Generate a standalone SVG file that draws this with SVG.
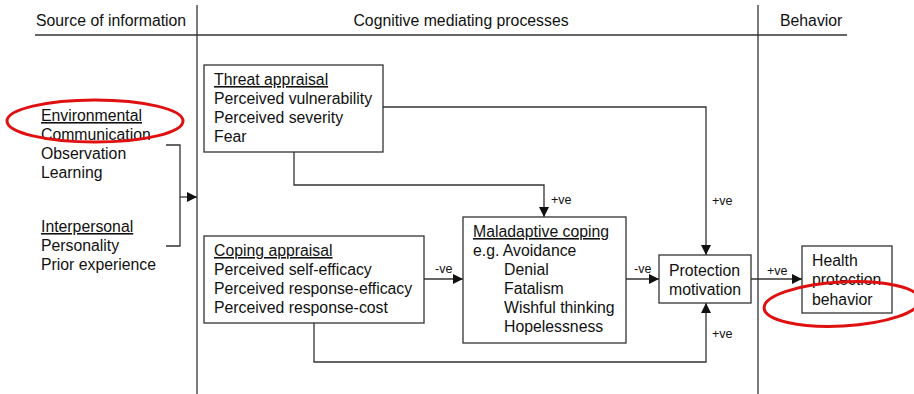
<svg xmlns="http://www.w3.org/2000/svg" width="914" height="394" viewBox="0 0 914 394">
<style>
text{font-family:"Liberation Sans",Arial,sans-serif;font-size:15.8px;fill:#111}
.h{font-size:15.8px}
.s{font-size:12.5px}
.u{text-decoration:underline}
.box{fill:#fff;stroke:#333;stroke-width:1.3}
.ln{fill:none;stroke:#333;stroke-width:1.3}
.red{fill:none;stroke:#e01010;stroke-width:3}
</style>
<defs>
<marker id="ah" viewBox="0 0 10 10" refX="10" refY="5" markerWidth="10" markerHeight="10" markerUnits="userSpaceOnUse" orient="auto">
<path d="M0,0 L10,5 L0,10 Z" fill="#111"/>
</marker>
</defs>
<rect width="914" height="394" fill="#fff"/>
<g id="header">
<line class="ln" x1="35" y1="35" x2="847" y2="35"/>
<line class="ln" x1="197" y1="5" x2="197" y2="394"/>
<line class="ln" x1="758" y1="5" x2="758" y2="394"/>
<text class="h" x="36" y="26">Source of information</text>
<text class="h" x="461" y="26" text-anchor="middle">Cognitive mediating processes</text>
<text class="h" x="780" y="26">Behavior</text>
</g>
<g id="connectors">
<path class="ln" d="M166,145 H180 V246 H166"/>
<path class="ln" d="M180,197 H197" marker-end="url(#ah)"/>
<path class="ln" d="M383,107 H706 V255" marker-end="url(#ah)"/>
<path class="ln" d="M294,152 V185 H544 V217" marker-end="url(#ah)"/>
<path class="ln" d="M424,279 H463" marker-end="url(#ah)"/>
<path class="ln" d="M626,279 H659" marker-end="url(#ah)"/>
<path class="ln" d="M751,279 H802" marker-end="url(#ah)"/>
<path class="ln" d="M314,323 V362 H706 V303" marker-end="url(#ah)"/>
<text class="s" x="551" y="204">+ve</text>
<text class="s" x="712" y="205">+ve</text>
<text class="s" x="435" y="273">-ve</text>
<text class="s" x="634" y="273">-ve</text>
<text class="s" x="767" y="275">+ve</text>
<text class="s" x="712" y="338">+ve</text>
</g>
<g id="sources">
<text x="41" y="121" class="u">Environmental</text>
<text x="41" y="140">Communication</text>
<text x="41" y="159">Observation</text>
<text x="41" y="178">Learning</text>
<text x="41" y="232" class="u">Interpersonal</text>
<text x="41" y="251">Personality</text>
<text x="41" y="270">Prior experience</text>
</g>
<g id="threat">
<rect class="box" x="204" y="65" width="179" height="87"/>
<text x="214" y="85" class="u">Threat appraisal</text>
<text x="214" y="104">Perceived vulnerability</text>
<text x="214" y="123">Perceived severity</text>
<text x="214" y="142">Fear</text>
</g>
<g id="coping">
<rect class="box" x="204" y="236" width="220" height="87"/>
<text x="214" y="256" class="u">Coping appraisal</text>
<text x="214" y="275">Perceived self-efficacy</text>
<text x="214" y="294">Perceived response-efficacy</text>
<text x="214" y="313">Perceived response-cost</text>
</g>
<g id="maladaptive">
<rect class="box" x="463" y="217" width="163" height="126"/>
<text x="473" y="237" class="u">Maladaptive coping</text>
<text x="473" y="256">e.g. Avoidance</text>
<text x="504" y="275">Denial</text>
<text x="504" y="294">Fatalism</text>
<text x="504" y="313">Wishful thinking</text>
<text x="504" y="332">Hopelessness</text>
</g>
<g id="protection">
<rect class="box" x="659" y="255" width="92" height="48"/>
<text x="669" y="276">Protection</text>
<text x="669" y="295">motivation</text>
</g>
<g id="health">
<rect class="box" x="802" y="246" width="90" height="67"/>
<text x="812" y="266">Health</text>
<text x="812" y="285">protection</text>
<text x="812" y="305">behavior</text>
</g>
<g id="highlights">
<ellipse class="red" cx="95" cy="121" rx="88" ry="21"/>
<ellipse class="red" cx="842" cy="304" rx="78" ry="22" transform="rotate(-3 842 304)"/>
</g>
</svg>
